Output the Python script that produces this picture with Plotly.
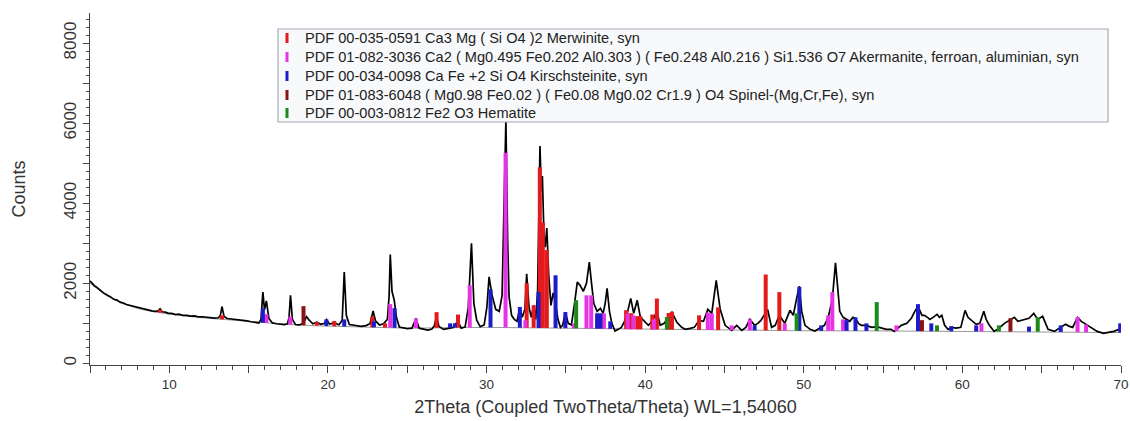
import numpy as np
import plotly.graph_objects as go

two_theta = [
    5.00, 5.10, 5.20, 5.30, 5.40, 5.55, 5.70, 5.85, 6.00, 6.15, 6.30, 6.50, 6.70, 6.90,
    7.10, 7.30, 7.50, 7.70, 7.90, 8.10, 8.30, 8.50, 8.70, 8.90, 9.10, 9.30, 9.42, 9.55,
    9.75, 9.95, 10.15, 10.40, 10.60, 10.85, 11.10, 11.35, 11.60, 11.85, 12.10, 12.35,
    12.60, 12.85, 13.10, 13.22, 13.32, 13.45, 13.65, 13.90, 14.15, 14.40, 14.65, 14.90,
    15.15, 15.40, 15.65, 15.78, 15.90, 16.00, 16.12, 16.28, 16.50, 16.75, 17.00, 17.25,
    17.45, 17.55, 17.64, 17.76, 17.95, 18.20, 18.45, 18.65, 18.82, 19.05, 19.30, 19.55,
    19.80, 19.92, 20.10, 20.40, 20.70, 20.90, 21.03, 21.16, 21.35, 21.60, 21.85, 22.10,
    22.40, 22.65, 22.85, 23.00, 23.25, 23.50, 23.75, 23.86, 23.93, 24.04, 24.18, 24.32,
    24.50, 24.75, 25.00, 25.30, 25.55, 25.75, 26.00, 26.30, 26.55, 26.70, 26.85, 27.00,
    27.30, 27.60, 27.90, 28.20, 28.40, 28.65, 28.85, 29.05, 29.20, 29.38, 29.60, 29.85,
    30.02, 30.16, 30.35, 30.58, 30.80, 30.98, 31.10, 31.22, 31.33, 31.42, 31.58, 31.75,
    31.92, 32.10, 32.25, 32.42, 32.53, 32.68, 32.82, 32.97, 33.10, 33.22, 33.37, 33.45,
    33.52, 33.62, 33.70, 33.80, 33.92, 34.06, 34.20, 34.35, 34.50, 34.66, 34.80, 34.97,
    35.15, 35.35, 35.55, 35.72, 35.90, 36.10, 36.30, 36.48, 36.62, 36.76, 36.97, 37.18,
    37.35, 37.48, 37.60, 37.75, 37.90, 38.10, 38.30, 38.50, 38.70, 38.90, 39.09, 39.28,
    39.50, 39.70, 39.90, 40.20, 40.45, 40.74, 40.95, 41.20, 41.45, 41.69, 41.85, 42.00,
    42.30, 42.53, 42.84, 43.10, 43.40, 43.68, 43.95, 44.20, 44.48, 44.73, 45.04, 45.25,
    45.46, 45.77, 46.09, 46.35, 46.60, 46.90, 47.10, 47.30, 47.72, 47.97, 48.20, 48.46,
    48.80, 49.13, 49.34, 49.55, 49.72, 49.87, 50.08, 50.40, 50.70, 51.00, 51.30, 51.54,
    51.80, 52.00, 52.15, 52.27, 52.48, 52.70, 52.90, 53.10, 53.26, 53.45, 53.63, 53.90,
    54.30, 54.60, 54.90, 55.20, 55.50, 55.70, 55.90, 56.15, 56.50, 56.78, 57.00, 57.20,
    57.45, 57.60, 57.80, 57.95, 58.15, 58.40, 58.55, 58.70, 58.88, 59.10, 59.30, 59.60,
    59.90, 60.05, 60.17, 60.35, 60.55, 60.87, 61.10, 61.35, 61.50, 61.70, 62.00, 62.30,
    62.65, 62.85, 63.03, 63.28, 63.50, 63.70, 63.95, 64.20, 64.50, 64.75, 65.06, 65.25,
    65.40, 65.80, 66.20, 66.50, 66.75, 66.95, 67.26, 67.50, 67.80, 68.10, 68.30, 68.50,
    68.70, 68.90, 69.20, 69.55, 69.87, 70.00,
]
counts = [
    2060, 2010, 1990, 1930, 1910, 1850, 1810, 1760, 1730, 1680, 1660, 1600, 1580, 1530,
    1510, 1470, 1450, 1420, 1400, 1380, 1370, 1340, 1330, 1310, 1300, 1310, 1360, 1290,
    1280, 1250, 1250, 1220, 1230, 1200, 1200, 1180, 1185, 1160, 1165, 1150,
    1145, 1130, 1140, 1200, 1420, 1170, 1120, 1110, 1090, 1085, 1065, 1060,
    1040, 1030, 1010, 1100, 1780, 1340, 1560, 1120, 1010, 990, 975, 970,
    990, 1150, 1700, 1100, 970, 960, 1000, 1170, 1080, 990, 1030, 975,
    1000, 1090, 980, 1010, 965, 1080, 2280, 1200, 970, 950, 930, 925,
    945, 990, 1310, 1060, 960, 990, 1100, 1700, 2720, 1800, 1580, 1150,
    910, 890, 870, 880, 1120, 880, 850, 830, 860, 930, 1170, 920,
    850, 880, 900, 1060, 880, 910, 1400, 3000, 1500, 1080, 920, 960,
    1400, 2160, 1700, 1350, 1300, 1700, 3600, 6080, 3100, 1660, 1200, 1100,
    1050, 1400, 1150, 1350, 2240, 1400, 1150, 1450, 1100, 1800, 5430, 4300,
    4680, 3200, 2900, 3380, 2200, 1450, 1760, 1520, 1100, 900, 950, 1280,
    1000, 960, 1500, 2030, 1950, 1800, 2000, 2530, 2000, 1500, 1300, 1375,
    1250, 1500, 1875, 1300, 1000, 810, 850, 900, 1050, 1300, 1625, 1250,
    1575, 1150, 1075, 950, 1050, 1300, 950, 1000, 1150, 1275, 1150, 1025,
    900, 850, 875, 900, 1075, 1050, 1350, 1250, 2075, 1350, 950, 880,
    825, 950, 825, 900, 1100, 950, 1000, 1075, 1350, 900, 950, 1200,
    1000, 1325, 1200, 1625, 1925, 1300, 950, 850, 810, 880, 950, 1150,
    1600, 2510, 1700, 1300, 1150, 1100, 1050, 1150, 1125, 1000, 950, 950,
    900, 920, 875, 850, 850, 800, 870, 950, 1000, 1125, 1300, 1425,
    1200, 1200, 1150, 1100, 1150, 1225, 1150, 1200, 950, 850, 900, 880,
    900, 1100, 1325, 1150, 1075, 975, 1000, 1300, 1100, 950, 800, 875,
    1000, 1050, 1100, 1150, 1050, 1075, 1100, 1125, 1250, 1100, 1175, 1000,
    850, 800, 900, 975, 925, 900, 1150, 1050, 975, 900, 850, 800,
    775, 750, 775, 800, 850, 850,
]

# fitted background (grey)
bg_theta = [5, 6, 7, 8, 9, 10, 12, 14, 16, 18, 20, 25, 30, 35, 40, 45, 50, 55, 60, 65, 70]
bg_counts = [2000, 1700, 1500, 1370, 1290, 1230, 1140, 1080, 1010, 960, 930, 880,
             900, 880, 850, 830, 815, 810, 800, 790, 770]

# reference stick patterns: position and top of stick (counts)
merwinite_pos = [9.42, 13.32, 19.30, 20.40, 22.80, 23.60, 26.85, 28.20, 32.53, 32.97, 33.36,
                 33.55, 33.80, 38.80, 39.00, 39.12, 39.50, 39.70, 40.45, 40.74, 41.48, 41.69,
                 43.40, 44.60, 47.60, 48.46]
merwinite_top = [1340, 1200, 1030, 1060, 1170, 1000, 1280, 1220, 2000, 1450, 4900,
                 3520, 2830, 1330, 1250, 1250, 1180, 1180, 1220, 1620, 1260, 1290,
                 1200, 1400, 2220, 1780]

akermanite_pos = [16.12, 17.63, 23.93, 25.55, 28.94, 31.20, 32.45, 35.50, 36.30, 36.60, 37.40,
                  38.90, 39.25, 40.55, 43.95, 44.20, 45.46, 46.60, 48.80, 51.54, 51.80, 52.48,
                  55.84, 61.20, 67.26, 67.80]
akermanite_top = [1230, 1170, 1480, 1120, 1950, 5260, 1080, 1000, 1700, 1700, 1250,
                  1250, 1200, 1100, 1270, 1250, 950, 1100, 1000, 1200, 1780, 1100,
                  950, 1000, 1160, 970]

kirschsteinite_pos = [15.90, 19.90, 21.03, 22.90, 24.20, 27.70, 28.00, 30.25, 32.10, 33.28,
                      34.35, 34.97, 36.97, 37.18, 37.80, 46.90, 49.72, 51.10, 52.70, 53.26,
                      53.95, 57.20, 58.04, 59.30, 60.87, 64.20, 66.20, 69.95]
kirschsteinite_top = [1380, 1100, 1100, 1050, 1380, 1000, 1000, 1850, 1410, 1780,
                      2200, 1280, 1250, 1250, 1050, 950, 1910, 950, 1080, 1150,
                      1000, 1480, 1000, 930, 950, 920, 950, 1000]

spinel_pos = [18.46, 57.45, 63.03]
spinel_top = [1430, 1080, 1130]

hematite_pos = [35.65, 41.37, 49.55, 54.60, 58.40, 62.30, 64.75]
hematite_top = [1580, 1160, 1250, 1530, 950, 950, 1150]

phase_labels = [
    "PDF 00-035-0591 Ca3 Mg ( Si O4 )2 Merwinite, syn",
    "PDF 01-082-3036 Ca2 ( Mg0.495 Fe0.202 Al0.303 ) ( Fe0.248 Al0.216 ) Si1.536 O7 Akermanite, ferroan, aluminian, syn",
    "PDF 00-034-0098 Ca Fe +2 Si O4 Kirschsteinite, syn",
    "PDF 01-083-6048 ( Mg0.98 Fe0.02 ) ( Fe0.08 Mg0.02 Cr1.9 ) O4 Spinel-(Mg,Cr,Fe), syn",
    "PDF 00-003-0812 Fe2 O3 Hematite",
]
phase_colors = ["#e41a1c", "#e633e6", "#1c1cc8", "#8b1212", "#1b8a1b"]

phases = [
    (merwinite_pos, merwinite_top),
    (akermanite_pos, akermanite_top),
    (kirschsteinite_pos, kirschsteinite_top),
    (spinel_pos, spinel_top),
    (hematite_pos, hematite_top),
]

FONT = "Liberation Sans, Arial, sans-serif"

fig = go.Figure()

fig.add_trace(go.Scatter(x=bg_theta, y=bg_counts, mode="lines",
                         line=dict(color="#9a9a9a", width=1), hoverinfo="skip"))
fig.add_trace(go.Scatter(x=two_theta, y=counts, mode="lines",
                         line=dict(color="black", width=1.7)))

# sticks drawn as thick segments from the background up, on top of the scan
for (pos, top), color in zip(phases, phase_colors):
    base = np.interp(pos, bg_theta, bg_counts)
    xs, ys = [], []
    for p, t, b in zip(pos, top, base):
        if t <= b:
            continue
        xs += [p, p, None]
        ys += [b, t, None]
    fig.add_trace(go.Scatter(x=xs, y=ys, mode="lines",
                             line=dict(color=color, width=4)))

# legend box (pixel layout converted to paper coords)
L, R, T, B = 278, 1108, 29, 122
ML, MR, MT, MB = 90, 9, 13, 56
PW, PH = 1130 - ML - MR, 421 - MT - MB
px = lambda v: (v - ML) / PW
py = lambda v: 1 - (v - MT) / PH

fig.add_shape(type="rect", xref="paper", yref="paper",
              x0=px(L), x1=px(R), y0=py(B), y1=py(T),
              fillcolor="#f8f9fb", line=dict(color="#a3acb6", width=1.2), layer="above")
row_y = [38, 57, 76, 95, 113]
for lab, color, ry in zip(phase_labels, phase_colors, row_y):
    fig.add_shape(type="line", xref="paper", yref="paper",
                  x0=px(287), x1=px(287), y0=py(ry + 5), y1=py(ry - 5),
                  line=dict(color=color, width=3), layer="above")
    fig.add_annotation(x=px(303), y=py(ry), xref="paper", yref="paper",
                       text=lab, showarrow=False, xanchor="left", yanchor="middle",
                       font=dict(family=FONT, size=14.6, color="#222"))

xt = list(range(5, 71, 5))
yt = list(range(0, 9000, 1000))
fig.update_xaxes(range=[5, 70], tickvals=xt,
                 ticktext=[str(v) if v % 10 == 0 else "" for v in xt],
                 ticks="outside", ticklen=7, tickcolor="#444", showline=True,
                 linecolor="#444", linewidth=1, showgrid=False, zeroline=False,
                 ticklabeloverflow="allow", automargin=False,
                 minor=dict(dtick=1, ticks="outside", ticklen=4, tickcolor="#444"),
                 tickfont=dict(family=FONT, size=13.5, color="#333"),
                 title=dict(text="2Theta (Coupled TwoTheta/Theta) WL=1,54060",
                            font=dict(family=FONT, size=18, color="#333"), standoff=9))
fig.update_yaxes(range=[-40, 8750], tickvals=yt,
                 ticktext=[str(v) if v % 2000 == 0 else "" for v in yt],
                 tickangle=-90, ticks="outside", ticklen=6, tickcolor="#444",
                 showline=True, linecolor="#444", linewidth=1, showgrid=False,
                 zeroline=False, automargin=False,
                 minor=dict(dtick=200, ticks="outside", ticklen=3, tickcolor="#444"),
                 tickfont=dict(family=FONT, size=17, color="#333"),
                 title=dict(text="Counts", font=dict(family=FONT, size=18, color="#333"),
                            standoff=30))

fig.update_layout(width=1130, height=421, showlegend=False,
                  margin=dict(l=ML, r=MR, t=MT, b=MB),
                  plot_bgcolor="white", paper_bgcolor="white")

fig.write_html("out.html", config={"displayModeBar": False},
               post_script="document.body.style.margin='0';document.body.style.overflow='hidden';")
